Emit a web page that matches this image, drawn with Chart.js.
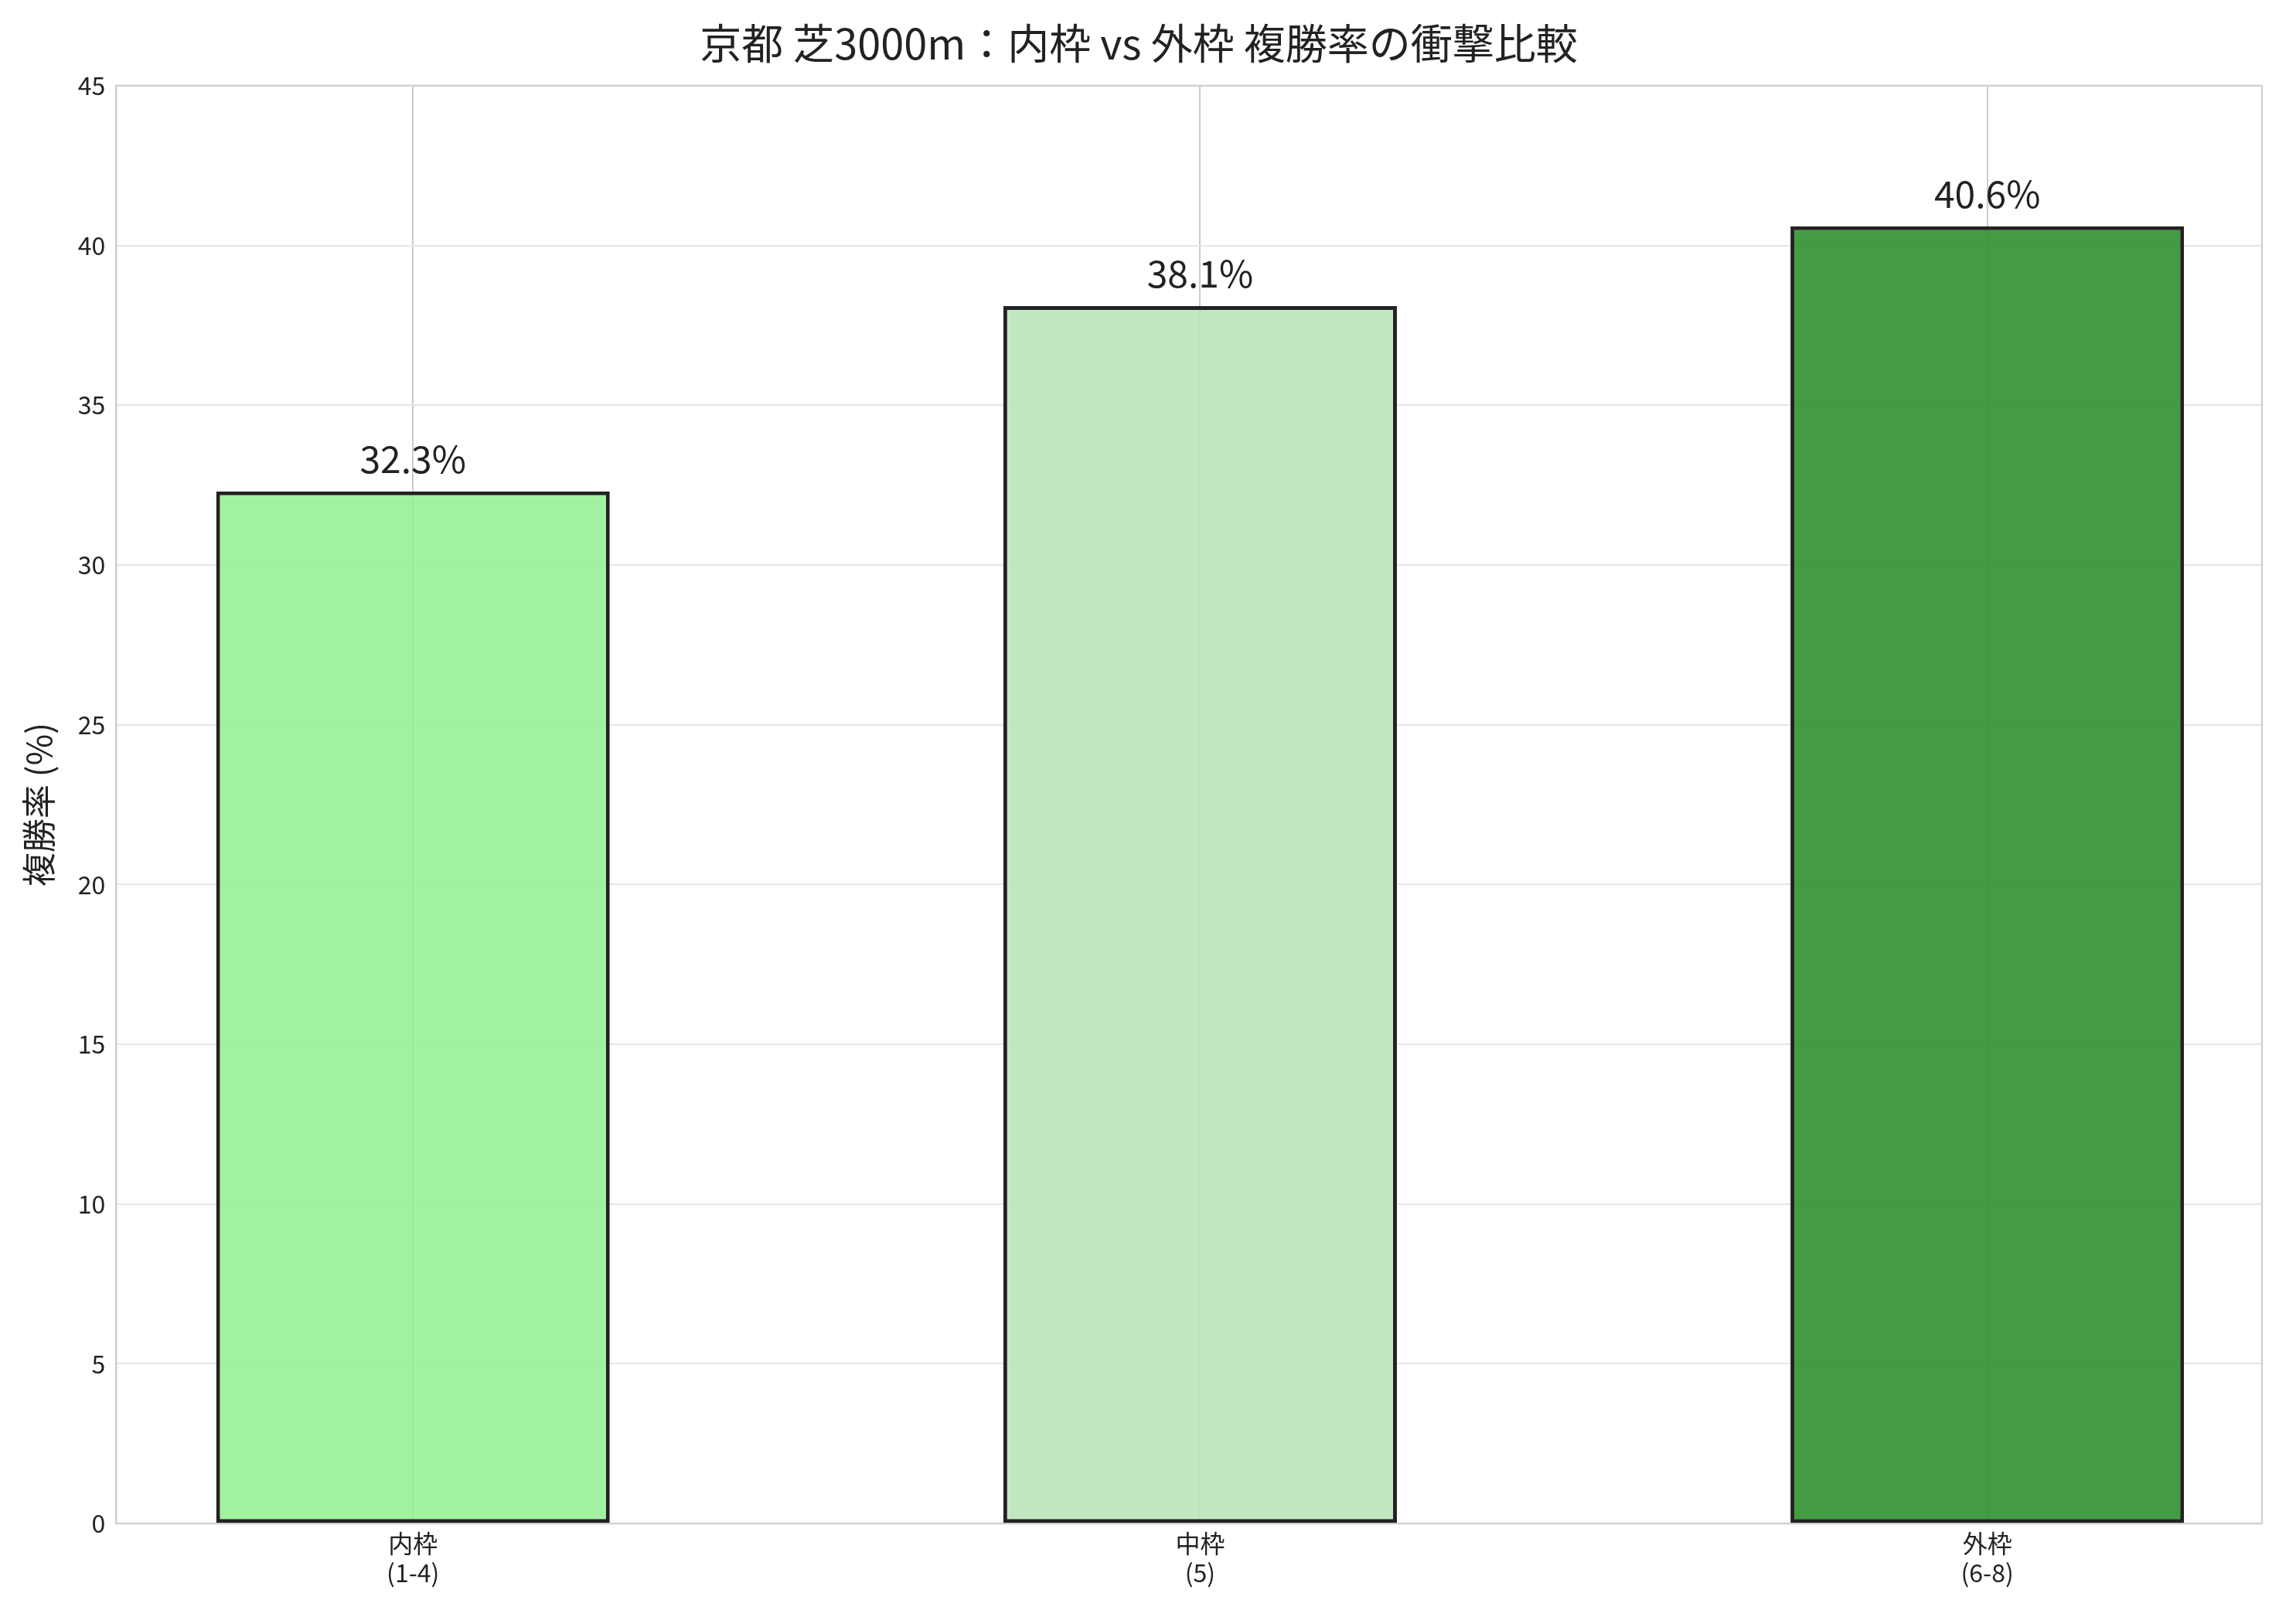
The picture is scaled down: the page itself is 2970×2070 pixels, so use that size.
<!DOCTYPE html>
<html>
<head>
<meta charset="utf-8">
<script src="https://cdn.jsdelivr.net/npm/chart.js@4"></script>
<style>
  html, body { margin: 0; padding: 0; background: #fff; }
  #wrap { width: 2970px; height: 2070px; }
</style>
</head>
<body>
<div id="wrap"><canvas id="chart"></canvas></div>
<script>
// data
const categories = ['内枠\n(1-4)', '中枠\n(5)', '外枠\n(6-8)'];
const placeRates = [32.3, 38.1, 40.6];
const barColors = ['rgba(144, 238, 144, 0.85)', 'rgba(183, 228, 183, 0.85)', 'rgba(34, 139, 34, 0.85)'];
const yTicks = [0, 5, 10, 15, 20, 25, 30, 35, 40, 45];

const FONT = '"Noto Sans CJK JP", "Noto Sans", sans-serif';

// value labels above each bar, plus the plot frame
const valueLabels = {
    id: 'valueLabels',
    afterDatasetsDraw(chart) {
        const ctx = chart.ctx;
        const meta = chart.getDatasetMeta(0);
        ctx.save();
        ctx.font = '48px ' + FONT;
        ctx.fillStyle = '#222';
        ctx.textAlign = 'center';
        ctx.textBaseline = 'bottom';
        meta.data.forEach((bar, i) => {
            ctx.fillText(placeRates[i].toFixed(1) + '%', bar.x, bar.y - 18);
        });
        const a = chart.chartArea;
        ctx.strokeStyle = '#cccccc';
        ctx.lineWidth = 2;
        ctx.strokeRect(a.left, a.top, a.right - a.left, a.bottom - a.top);
        ctx.restore();
    }
};

const ctx = document.getElementById('chart').getContext('2d');
new Chart(ctx, {
    type: 'bar',
    data: {
        datasets: [{
            data: placeRates.map((v, i) => ({ x: i, y: v })),
            backgroundColor: barColors,
            borderColor: '#222',
            borderWidth: 5,
            borderSkipped: false,
            categoryPercentage: 1,
            barPercentage: 0.5
        }]
    },
    options: {
        responsive: true,
        maintainAspectRatio: false,
        animation: false,
        layout: { padding: { left: 20, right: 44, top: 10, bottom: 10 } },
        plugins: {
            legend: { display: false },
            tooltip: { enabled: false },
            title: {
                display: true,
                text: '京都 芝3000m：内枠 vs 外枠 複勝率の衝撃比較',
                font: { family: FONT, size: 54, weight: 'normal' },
                color: '#222',
                padding: { top: 14, bottom: 22 }
            }
        },
        scales: {
            x: {
                type: 'linear',
                offset: false,
                min: -0.377,
                max: 2.349,
                afterBuildTicks: axis => { axis.ticks = [0, 1, 2].map(v => ({ value: v })); },
                ticks: {
                    callback: v => categories[v].split('\n'),
                    font: { family: FONT, size: 32 },
                    color: '#222',
                    padding: 6
                },
                grid: { color: '#cccccc', lineWidth: 2, drawTicks: false, offset: false },
                border: { color: '#cccccc', width: 2 }
            },
            y: {
                min: 0,
                max: 45,
                afterBuildTicks: axis => { axis.ticks = yTicks.map(v => ({ value: v })); },
                ticks: {
                    font: { family: FONT, size: 32 },
                    color: '#222',
                    padding: 14
                },
                grid: { color: '#e6e6e6', lineWidth: 2, drawTicks: false },
                border: { color: '#cccccc', width: 2 },
                title: {
                    display: true,
                    text: '複勝率 (%)',
                    font: { family: FONT, size: 44 },
                    color: '#222',
                    padding: { bottom: 10 }
                }
            }
        }
    },
    plugins: [valueLabels]
});
</script>
</body>
</html>
